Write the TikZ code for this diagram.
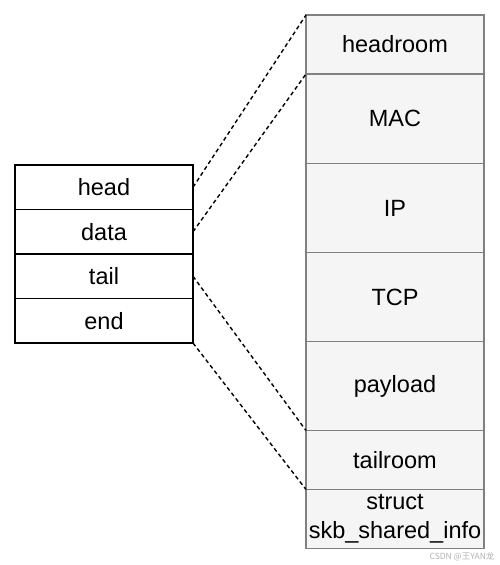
\documentclass[tikz,border=0pt]{standalone}
\usepackage{fontspec}
\setmainfont{Liberation Sans}
\newfontfamily\cjkfont{Noto Sans CJK SC}
\usepackage{tikz}
\usetikzlibrary{positioning}
\colorlet{cellfill}{black!4}
\colorlet{cellline}{black!50}

\begin{document}
\begin{tikzpicture}[x=1pt,y=-1pt,
  ptr/.style={draw=black,line width=1.3pt,minimum width=178pt,minimum height=44.5pt,inner sep=0pt,outer sep=0pt,font=\fontsize{23.5}{28}\selectfont},
  cell/.style={draw=cellline,fill=cellfill,line width=1.3pt,minimum width=178pt,inner sep=0pt,outer sep=0pt,align=center,font=\fontsize{23.5}{29}\selectfont},
  link/.style={dash pattern=on 4pt off 3pt,line width=1.4pt}]
\useasboundingbox (0,0) rectangle (500,565);
% sk_buff pointers
\node[ptr] (ptrhead) at (104,187.25) {head};
\node[ptr,below=0pt of ptrhead] (ptrdata) {data};
\node[ptr,below=0pt of ptrdata] (ptrtail) {tail};
\node[ptr,below=0pt of ptrtail] (ptrend) {end};
% buffer layout
\node[cell,minimum height=59pt] (headroom) at (395,44.5) {headroom};
\node[cell,minimum height=89.5pt,below=0pt of headroom] (mac) {MAC};
\node[cell,minimum height=89pt,below=0pt of mac] (ip) {IP};
\node[cell,minimum height=89pt,below=0pt of ip] (tcp) {TCP};
\node[cell,minimum height=89pt,below=0pt of tcp] (payload) {payload};
\node[cell,minimum height=59pt,below=0pt of payload] (tailroom) {tailroom};
\node[cell,minimum height=59pt,below=0pt of tailroom] (shinfo) {struct\\skb\_shared\_info};
% where each pointer points
\draw[link] (ptrhead.east) -- (headroom.north west);
\draw[link] (ptrdata.east) -- (mac.north west);
\draw[link] (ptrtail.east) -- (tailroom.north west);
\draw[link] (ptrend.south east) -- (shinfo.north west);
\node[anchor=east,text=black!30,font=\cjkfont\fontsize{8.5}{10}\selectfont] (mark) at (498,557) {CSDN @王YAN龙};
\end{tikzpicture}
\end{document}
